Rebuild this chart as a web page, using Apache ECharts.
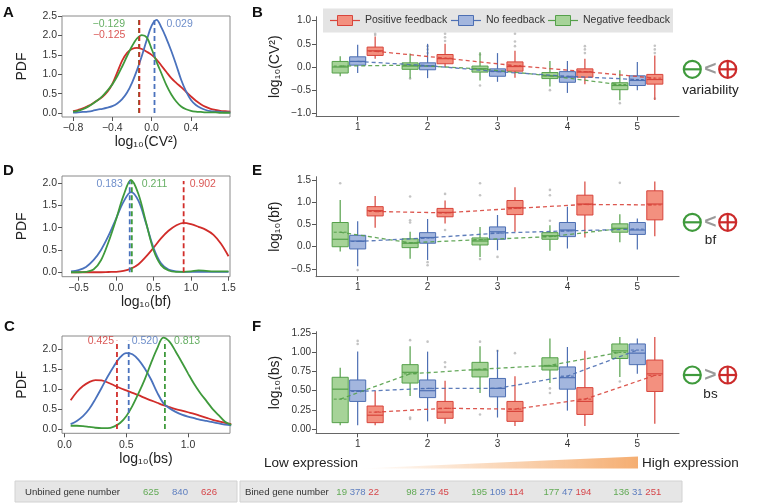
<!DOCTYPE html>
<html><head><meta charset="utf-8">
<script src="https://cdn.jsdelivr.net/npm/echarts@6/dist/echarts.min.js"></script>
<style>html,body{margin:0;padding:0;background:#fff}#c{width:757px;height:504px}</style>
</head><body><div id="c"></div>
<script>
// ---------------- DATA ----------------
const seriesNames = ['Positive feedback', 'No feedback', 'Negative feedback'];
const binLabels = ['1', '2', '3', '4', '5'];
const bins = [1, 2, 3, 4, 5];

// Panel A: PDF of log10(CV^2)
const cvGrid = [-0.8,-0.75,-0.7,-0.65,-0.6,-0.55,-0.5,-0.45,-0.4,-0.35,-0.3,-0.25,-0.2,-0.15,-0.1,-0.05,0,0.05,0.1,0.15,0.2,0.25,0.3,0.35,0.4,0.45,0.5,0.55,0.6,0.65,0.7,0.75,0.8];
const cvPdfPos = [0.05,0.08,0.12,0.18,0.25,0.33,0.42,0.55,0.75,1.05,1.35,1.55,1.65,1.68,1.65,1.58,1.5,1.38,1.22,1.06,0.9,0.78,0.67,0.55,0.43,0.32,0.23,0.16,0.11,0.08,0.06,0.05,0.04];
const cvPdfNo  = [0.01,0.02,0.03,0.04,0.06,0.09,0.11,0.14,0.18,0.25,0.36,0.53,0.78,1.1,1.47,1.88,2.25,2.40,2.2,1.92,1.6,1.24,0.86,0.56,0.34,0.21,0.13,0.08,0.05,0.04,0.03,0.02,0.02];
const cvPdfNeg = [0.04,0.06,0.1,0.16,0.24,0.33,0.44,0.58,0.74,0.95,1.2,1.47,1.72,1.92,2.01,1.95,1.65,1.32,1.02,0.72,0.48,0.3,0.17,0.1,0.06,0.04,0.03,0.02,0.02,0.02,0.01,0.01,0.01];
const cvMedians = [-0.125, 0.029, -0.129];

// Panel D: PDF of log10(bf)
const bfGrid = [-0.6,-0.5,-0.4,-0.3,-0.2,-0.1,0,0.1,0.2,0.3,0.4,0.5,0.6,0.7,0.8,0.9,1.0,1.1,1.2,1.3,1.4,1.5];
const bfPdfPos = [0,0,0,0,0,0.005,0.01,0.03,0.08,0.18,0.35,0.55,0.76,0.93,1.05,1.11,1.08,1.02,0.95,0.84,0.64,0.36];
const bfPdfNo  = [0.02,0.05,0.12,0.27,0.5,0.82,1.2,1.58,1.8,1.6,1.1,0.55,0.2,0.06,0.02,0.01,0.01,0.01,0.01,0.01,0.01,0.01];
const bfPdfNeg = [0,0,0.01,0.06,0.27,0.68,1.18,1.72,2.07,1.75,1.12,0.5,0.16,0.04,0.01,0.01,0.02,0.04,0.03,0.02,0.02,0.02];
const bfMedians = [0.902, 0.183, 0.211];

// Panel C: PDF of log10(bs)
const bsGrid = [0.05,0.1,0.15,0.2,0.25,0.3,0.35,0.4,0.45,0.5,0.55,0.6,0.65,0.7,0.75,0.8,0.85,0.9,0.95,1.0,1.05,1.1,1.15,1.2,1.25,1.3,1.35];
const bsPdfPos = [0.72,0.93,1.08,1.18,1.23,1.22,1.17,1.1,1.03,0.97,0.91,0.85,0.78,0.72,0.66,0.6,0.55,0.5,0.46,0.42,0.38,0.33,0.28,0.23,0.19,0.15,0.12];
const bsPdfNo  = [0.12,0.2,0.32,0.5,0.75,1.03,1.32,1.58,1.8,1.91,1.88,1.74,1.52,1.25,0.92,0.65,0.52,0.43,0.36,0.31,0.27,0.23,0.2,0.17,0.14,0.11,0.09];
const bsPdfNeg = [0.08,0.08,0.07,0.05,0.03,0.02,0.02,0.06,0.15,0.32,0.58,0.9,1.25,1.65,2.02,2.3,2.2,1.95,1.68,1.4,1.13,0.9,0.7,0.5,0.34,0.18,0.1];
const bsMedians = [0.425, 0.520, 0.813];

// Box panels: per bin [min, Q1, median, Q3, max, mean]
const cvBoxPos = [[0.18,0.25,0.35,0.43,0.66,0.34],[0.0,0.07,0.18,0.27,0.5,0.19],[-0.23,-0.09,0.01,0.11,0.35,0.03],[-0.37,-0.22,-0.11,-0.04,0.18,-0.1],[-0.71,-0.37,-0.27,-0.16,0.25,-0.24]];
const cvBoxNo  = [[-0.13,0.04,0.12,0.22,0.48,0.12],[-0.24,-0.06,0.02,0.09,0.5,0.03],[-0.32,-0.2,-0.09,-0.04,0.3,-0.1],[-0.56,-0.33,-0.22,-0.1,0.13,-0.2],[-0.5,-0.4,-0.29,-0.19,0.11,-0.27]];
const cvBoxNeg = [[-0.2,-0.13,0.0,0.12,0.23,0.02],[-0.25,-0.05,0.02,0.09,0.29,0.04],[-0.29,-0.11,-0.04,0.02,0.32,-0.04],[-0.42,-0.25,-0.19,-0.12,0.13,-0.19],[-0.72,-0.49,-0.4,-0.34,-0.07,-0.38]];
const cvOutPos = [[0.69,0.72],[0.56,0.64,0.72],[0.45,0.55,0.72],[0.3,0.38,0.45],[0.3,0.38,0.46,-0.68]];
const cvOutNo  = [[],[0.3,0.38,0.45],[],[],[]];
const cvOutNeg = [[],[-0.25],[0.27,-0.4],[-0.5],[-0.78]];

const bfBoxPos = [[0.43,0.7,0.82,0.91,1.15,0.8],[0.53,0.68,0.78,0.87,1.05,0.77],[0.34,0.73,0.89,1.05,1.35,0.87],[0.21,0.72,0.97,1.17,1.48,0.96],[0.24,0.61,0.97,1.27,1.48,0.95]];
const bfBoxNo  = [[-0.44,-0.05,0.13,0.26,0.58,0.12],[-0.3,0.08,0.21,0.32,0.63,0.2],[-0.08,0.17,0.34,0.45,0.72,0.31],[-0.04,0.23,0.38,0.55,0.91,0.36],[-0.06,0.28,0.38,0.55,0.64,0.4]];
const bfBoxNeg = [[-0.11,0.0,0.17,0.55,1.06,0.33],[-0.27,-0.02,0.08,0.18,0.34,0.09],[-0.23,0.04,0.13,0.2,0.45,0.16],[-0.09,0.17,0.25,0.32,0.49,0.23],[0.1,0.33,0.42,0.52,0.74,0.41]];
const bfOutPos = [[],[1.2,0.38],[],[],[]];
const bfOutNo  = [[-0.53],[-0.35,-0.42],[-0.23],[],[]];
const bfOutNeg = [[1.44],[1.14,0.6,0.55],[1.44,1.17,-0.28],[1.29,1.17,0.59],[1.45]];

const bsBoxPos = [[0.05,0.083,0.18,0.3,0.5,0.22],[0.07,0.14,0.22,0.36,0.63,0.27],[0.04,0.1,0.23,0.36,0.69,0.26],[0.04,0.19,0.36,0.54,1.02,0.39],[0.07,0.49,0.72,0.9,1.2,0.7]];
const bsBoxNo  = [[0.05,0.36,0.5,0.64,1.01,0.49],[0.1,0.41,0.5,0.64,1.01,0.53],[0.15,0.42,0.53,0.66,1.03,0.53],[0.24,0.52,0.67,0.81,1.07,0.69],[0.72,0.84,0.99,1.11,1.18,1.03]];
const bsBoxNeg = [[0.05,0.083,0.52,0.675,0.8,0.39],[0.43,0.6,0.74,0.84,1.08,0.72],[0.47,0.68,0.77,0.87,1.08,0.78],[0.6,0.77,0.82,0.93,1.18,0.83],[0.68,0.92,1.02,1.11,1.2,1.0]];
const bsOutPos = [[],[0.87,0.81],[0.99],[],[]];
const bsOutNo  = [[1.15,1.11],[1.14],[1.02],[],[]];
const bsOutNeg = [[],[1.16,0.15,0.13],[1.14,0.19],[0.53,0.47],[0.62]];

const unbinnedCounts = [625, 840, 626];          // neg, no, pos
const binnedCounts = [[19,378,22],[98,275,45],[195,109,114],[177,47,194],[136,31,251]]; // neg, no, pos per bin

// ---------------- STYLE ----------------
const FONT = 'Liberation Sans, Arial, Helvetica, sans-serif';
const LINE = {pos: '#d12d2a', no: '#4a72bd', neg: '#3f9a3c'};
const BOX_STROKE = {pos: '#d8453c', no: '#4d6fb3', neg: '#55a04a'};
const BOX_FILL = {pos: '#f3907f', no: '#a3b6de', neg: '#a6d398'};
const NUM = {pos: '#d6464a', no: '#5d7ebf', neg: '#62aa55'};
const OFFSET = {neg: -0.25, no: 0, pos: 0.25};
const BOXW = 0.23;

const fmtMinus = (v, d) => (v < 0 ? '\u2212' : '') + Math.abs(v).toFixed(d);

const chart = echarts.init(document.getElementById('c'), null, {renderer: 'canvas'});

const grids = [
  {left: 62, top: 16, width: 168, height: 101},     // A
  {left: 62, top: 176, width: 168, height: 100.7},  // D
  {left: 62, top: 336, width: 168, height: 97.3},   // C
  {left: 316, top: 16.7, width: 363, height: 100},  // B
  {left: 316, top: 176.7, width: 363, height: 100}, // E
  {left: 316, top: 331.7, width: 363, height: 101.6} // F
].map((g, i) => Object.assign({show: i < 3, borderColor: '#8a8a8a', borderWidth: 1, backgroundColor: 'transparent'}, g));

function densityX(gi, min, max, ticks, name, gap) {
  return {
    type: 'value', gridIndex: gi, min: min, max: max,
    axisLine: {show: false, onZero: false},
    axisTick: {show: true, length: 4, customValues: ticks, lineStyle: {color: '#555'}},
    axisLabel: {customValues: ticks, formatter: v => fmtMinus(v, 1), fontSize: 10.5, color: '#333', margin: 6, fontFamily: FONT},
    splitLine: {show: false},
    name: name, nameLocation: 'middle', nameGap: gap,
    nameTextStyle: {fontSize: 14, color: '#222', fontFamily: FONT}
  };
}
function densityY(gi, min, max, ticks) {
  return {
    type: 'value', gridIndex: gi, min: min, max: max,
    axisLine: {show: false, onZero: false},
    axisTick: {show: true, length: 4, customValues: ticks, lineStyle: {color: '#555'}},
    axisLabel: {customValues: ticks, formatter: v => fmtMinus(v, 1), fontSize: 10.5, color: '#333', margin: 5, fontFamily: FONT},
    splitLine: {show: false},
    name: 'PDF', nameLocation: 'middle', nameGap: 33,
    nameTextStyle: {fontSize: 14, color: '#222', fontFamily: FONT}
  };
}
function boxX(gi) {
  return {
    type: 'value', gridIndex: gi, min: 0.404, max: 5.596,
    axisLine: {show: true, onZero: false, lineStyle: {color: '#666', width: 1}},
    axisTick: {show: true, length: 4, customValues: bins, lineStyle: {color: '#555'}},
    axisLabel: {customValues: bins, formatter: v => binLabels[bins.indexOf(v)], fontSize: 10, color: '#333', margin: 6, fontFamily: FONT},
    splitLine: {show: false}
  };
}
function boxY(gi, min, max, ticks, dec, name) {
  return {
    type: 'value', gridIndex: gi, min: min, max: max,
    axisLine: {show: true, onZero: false, lineStyle: {color: '#666', width: 1}},
    axisTick: {show: true, length: 4, customValues: ticks, lineStyle: {color: '#555'}},
    axisLabel: {customValues: ticks, formatter: v => fmtMinus(v, dec), fontSize: 10, color: '#333', margin: 5, fontFamily: FONT},
    splitLine: {show: false},
    name: name, nameLocation: 'middle', nameGap: 34,
    nameTextStyle: {fontSize: 14, color: '#222', fontFamily: FONT}
  };
}

const xAxes = [
  densityX(0, -0.912, 0.797, [-0.8, -0.4, 0, 0.4], 'log\u2081\u2080(CV\u00B2)', 18),
  densityX(1, -0.72, 1.52, [-0.5, 0, 0.5, 1.0, 1.5], 'log\u2081\u2080(bf)', 18),
  densityX(2, -0.02, 1.34, [0, 0.5, 1.0], 'log\u2081\u2080(bs)', 19),
  boxX(3), boxX(4), boxX(5)
];
const yAxes = [
  densityY(0, -0.1, 2.5, [0, 0.5, 1, 1.5, 2, 2.5]),
  densityY(1, -0.1, 2.16, [0, 0.5, 1, 1.5, 2]),
  densityY(2, -0.11, 2.34, [0, 0.5, 1, 1.5, 2]),
  boxY(3, -1.073, 1.086, [-1, -0.5, 0, 0.5, 1], 1, 'log\u2081\u2080(CV\u00B2)'),
  boxY(4, -0.68, 1.59, [-0.5, 0, 0.5, 1, 1.5], 1, 'log\u2081\u2080(bf)'),
  boxY(5, -0.056, 1.27, [0, 0.25, 0.5, 0.75, 1, 1.25], 2, 'log\u2081\u2080(bs)')
];

const series = [];
const keys = ['pos', 'no', 'neg'];

// density panels
function addDensity(ai, grid, pdfs, medians, lineTop, labelY, labelSide, labelGap) {
  pdfs.forEach((pdf, k) => {
    const key = keys[k];
    series.push({
      type: 'line', name: seriesNames[k], xAxisIndex: ai, yAxisIndex: ai,
      data: grid.map((x, i) => [x, pdf[i]]), smooth: 0.35, symbol: 'none',
      lineStyle: {color: LINE[key], width: 1.8}, z: 3, silent: true
    });
  });
  [2, 1, 0].forEach(k => {
    const key = keys[k];
    series.push({
      type: 'line', xAxisIndex: ai, yAxisIndex: ai, symbol: 'none', silent: true,
      data: [[medians[k], 0], [medians[k], lineTop]],
      lineStyle: {color: LINE[key], width: 1.8, type: [5, 3]}, z: 4
    });
    series.push({
      type: 'scatter', xAxisIndex: ai, yAxisIndex: ai, symbolSize: 0, silent: true,
      data: [[medians[k], labelY[k]]],
      label: {show: true, position: labelSide[k], distance: labelGap[k], formatter: () => fmtMinus(medians[k], 3),
        color: LINE[key], fontSize: 10.5, fontFamily: FONT},
      z: 5
    });
  });
}
addDensity(0, cvGrid, [cvPdfPos, cvPdfNo, cvPdfNeg], cvMedians, 2.42, [2.01, 2.29, 2.29], ['left', 'right', 'left'], [14, 12, 14]);
addDensity(1, bfGrid, [bfPdfPos, bfPdfNo, bfPdfNeg], bfMedians, 2.05, [1.98, 1.98, 1.98], ['right', 'left', 'right'], [6, 7, 10]);
addDensity(2, bsGrid, [bsPdfPos, bsPdfNo, bsPdfNeg], bsMedians, 2.22, [2.21, 2.21, 2.21], ['left', 'right', 'right'], [3, 3, 9]);

// box panels
function makeRender(key) {
  return function (params, api) {
    const x = api.value(0);
    const c = v => api.coord([x, v]);
    const pMin = c(api.value(1)), pQ1 = c(api.value(2)), pMed = c(api.value(3)),
          pQ3 = c(api.value(4)), pMax = c(api.value(5)), pMean = c(api.value(6));
    const hw = api.size([BOXW, 0])[0] / 2;
    const cx = pMed[0];
    const stroke = BOX_STROKE[key];
    return {
      type: 'group',
      children: [
        {type: 'line', shape: {x1: cx, y1: pMax[1], x2: cx, y2: pMin[1]}, style: {stroke: stroke, lineWidth: 1.2}},
        {type: 'rect', shape: {x: cx - hw, y: pQ3[1], width: hw * 2, height: pQ1[1] - pQ3[1]}, style: {fill: BOX_FILL[key], stroke: stroke, lineWidth: 1}},
        {type: 'line', shape: {x1: cx - hw, y1: pMed[1], x2: cx + hw, y2: pMed[1]}, style: {stroke: stroke, lineWidth: 1.2}},
        {type: 'line', shape: {x1: cx - hw * 0.8, y1: pMean[1], x2: cx + hw * 0.8, y2: pMean[1]}, style: {stroke: stroke, lineWidth: 1, lineDash: [3, 2]}}
      ]
    };
  };
}
function addBoxes(ai, boxesByKey, outByKey) {
  ['neg', 'no', 'pos'].forEach(key => {
    const boxes = boxesByKey[key];
    series.push({
      type: 'custom', xAxisIndex: ai, yAxisIndex: ai, silent: true,
      renderItem: makeRender(key),
      data: boxes.map((b, i) => [bins[i] + OFFSET[key]].concat(b)),
      encode: {x: 0, y: [1, 2, 3, 4, 5]}, z: 3
    });
    const outs = [];
    outByKey[key].forEach((arr, i) => arr.forEach(v => outs.push([bins[i] + OFFSET[key], v])));
    series.push({
      type: 'scatter', xAxisIndex: ai, yAxisIndex: ai, silent: true, data: outs,
      symbolSize: 2.6, itemStyle: {color: '#b5b5b5'}, z: 2
    });
  });
  ['neg', 'no', 'pos'].forEach(key => {
    series.push({
      type: 'line', xAxisIndex: ai, yAxisIndex: ai, silent: true, symbol: 'none',
      data: boxesByKey[key].map((b, i) => [bins[i] + OFFSET[key], b[5]]),
      lineStyle: {color: BOX_STROKE[key], width: 1.3, type: [4, 3], opacity: 0.9}, z: 6
    });
  });
}
addBoxes(3, {pos: cvBoxPos, no: cvBoxNo, neg: cvBoxNeg}, {pos: cvOutPos, no: cvOutNo, neg: cvOutNeg});
addBoxes(4, {pos: bfBoxPos, no: bfBoxNo, neg: bfBoxNeg}, {pos: bfOutPos, no: bfOutNo, neg: bfOutNeg});
addBoxes(5, {pos: bsBoxPos, no: bsBoxNo, neg: bsBoxNeg}, {pos: bsOutPos, no: bsOutNo, neg: bsOutNeg});

chart.setOption({
  animation: false,
  textStyle: {fontFamily: FONT},
  grid: grids, xAxis: xAxes, yAxis: yAxes, series: series
});

// ---------------- GRAPHICS (annotations) ----------------
const g = [];
const letter = (t, x, y) => ({type: 'text', style: {text: t, x: x, y: y, fontSize: 15, fontWeight: 'bold', fill: '#111', fontFamily: FONT, verticalAlign: 'middle'}});
g.push(letter('A', 3, 13), letter('B', 252, 13), letter('D', 3, 171), letter('E', 252, 171), letter('C', 4, 327), letter('F', 252, 327));

// legend
g.push({type: 'rect', shape: {x: 323, y: 8.5, width: 350, height: 24}, style: {fill: '#e4e4e4'}, z: 10});
const legX = [345, 466, 563];
seriesNames.forEach((n, k) => {
  const key = keys[k];
  const cx = legX[k];
  g.push({type: 'line', shape: {x1: cx - 15, y1: 20.5, x2: cx + 15, y2: 20.5}, style: {stroke: BOX_STROKE[key], lineWidth: 1.2}, z: 11});
  g.push({type: 'rect', shape: {x: cx - 7.5, y: 15.5, width: 15, height: 10}, style: {fill: BOX_FILL[key], stroke: BOX_STROKE[key], lineWidth: 1}, z: 12});
  g.push({type: 'text', style: {text: n, x: cx + 20, y: 20.5, verticalAlign: 'middle', fontSize: 10.5, fill: '#333', fontFamily: FONT}, z: 12});
});

// right-hand symbols
function symbolGroup(cy, rel, label, ly) {
  const green = '#3f9a3c', red = '#cc2b2b', r = 8.5;
  g.push({type: 'circle', shape: {cx: 692.3, cy: cy, r: r}, style: {fill: 'none', stroke: green, lineWidth: 2.2}});
  g.push({type: 'line', shape: {x1: 692.3 - r, y1: cy, x2: 692.3 + r, y2: cy}, style: {stroke: green, lineWidth: 2.2}});
  g.push({type: 'circle', shape: {cx: 727.7, cy: cy, r: r}, style: {fill: 'none', stroke: red, lineWidth: 2.2}});
  g.push({type: 'line', shape: {x1: 727.7 - r, y1: cy, x2: 727.7 + r, y2: cy}, style: {stroke: red, lineWidth: 2.2}});
  g.push({type: 'line', shape: {x1: 727.7, y1: cy - r, x2: 727.7, y2: cy + r}, style: {stroke: red, lineWidth: 2.2}});
  g.push({type: 'text', style: {text: rel, x: 710.5, y: cy, align: 'center', verticalAlign: 'middle', fontSize: 21, fontWeight: 'bold', fill: '#9a9a9a', fontFamily: FONT}});
  g.push({type: 'text', style: {text: label, x: 710.5, y: ly, align: 'center', verticalAlign: 'middle', fontSize: 13.5, fill: '#222', fontFamily: FONT}});
}
symbolGroup(69.3, '<', 'variability', 90);
symbolGroup(222.3, '<', 'bf', 240);
symbolGroup(375, '>', 'bs', 394);

// expression gradient
g.push({type: 'text', style: {text: 'Low expression', x: 311, y: 463, align: 'center', verticalAlign: 'middle', fontSize: 13.5, fill: '#222', fontFamily: FONT}});
g.push({type: 'polygon', shape: {points: [[360, 468.5], [638, 456.5], [638, 468.5]]},
  style: {fill: new echarts.graphic.LinearGradient(0, 0, 1, 0, [{offset: 0, color: 'rgba(246,178,118,0)'}, {offset: 1, color: '#f5ae72'}])}});
g.push({type: 'text', style: {text: 'High expression', x: 642, y: 463, align: 'left', verticalAlign: 'middle', fontSize: 13.5, fill: '#222', fontFamily: FONT}});

// gene number bars
const SMALL = 9.6;
g.push({type: 'rect', shape: {x: 15, y: 481, width: 222, height: 21}, style: {fill: '#e6e6e6', stroke: '#d2d2d2', lineWidth: 1}});
g.push({type: 'rect', shape: {x: 240, y: 481, width: 442, height: 21}, style: {fill: '#e6e6e6', stroke: '#d2d2d2', lineWidth: 1}});
g.push({type: 'text', style: {text: 'Unbined gene number', x: 25, y: 492, verticalAlign: 'middle', fontSize: SMALL, fill: '#333', fontFamily: FONT}});
const unbX = [143, 172, 201];
const unbCol = [NUM.neg, NUM.no, NUM.pos];
unbinnedCounts.forEach((v, i) => g.push({type: 'text', style: {text: String(v), x: unbX[i], y: 492, verticalAlign: 'middle', fontSize: SMALL, fill: unbCol[i], fontFamily: FONT}}));
g.push({type: 'text', style: {text: 'Bined gene number', x: 245, y: 492, verticalAlign: 'middle', fontSize: SMALL, fill: '#333', fontFamily: FONT}});
binnedCounts.forEach((cnt, i) => {
  const px = chart.convertToPixel({xAxisIndex: 5}, bins[i]);
  g.push({type: 'text', style: {
    text: '{g|' + cnt[0] + '} {b|' + cnt[1] + '} {r|' + cnt[2] + '}',
    x: px, y: 492, align: 'center', verticalAlign: 'middle', fontSize: SMALL, fontFamily: FONT,
    rich: {g: {fill: NUM.neg, fontSize: SMALL, fontFamily: FONT}, b: {fill: NUM.no, fontSize: SMALL, fontFamily: FONT}, r: {fill: NUM.pos, fontSize: SMALL, fontFamily: FONT}}
  }});
});

chart.setOption({graphic: g.map(e => Object.assign({silent: true}, e))});
</script></body></html>
